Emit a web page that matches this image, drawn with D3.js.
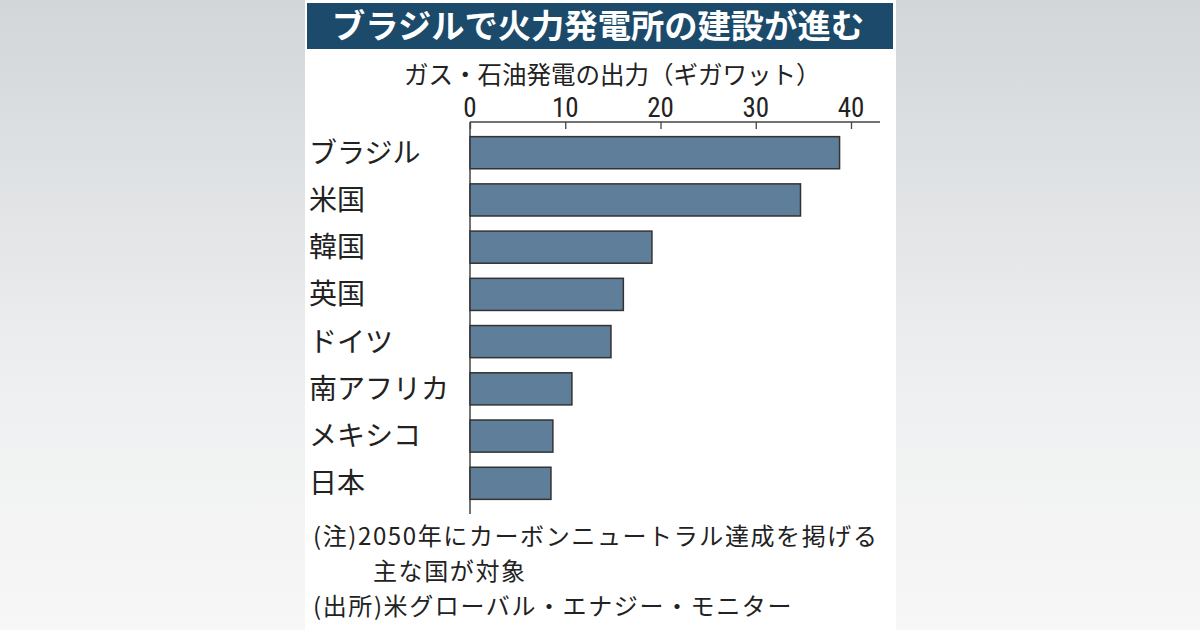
<!DOCTYPE html>
<html>
<head>
<meta charset="utf-8">
<script src="https://cdn.jsdelivr.net/npm/d3@7"></script>
<style>
  body { margin: 0; }
  svg { display: block; }
  text { font-family: "Noto Sans CJK JP", "Noto Sans", sans-serif; fill: #222; }
  .tick-label { font-family: "Liberation Sans Narrow", "Roboto Condensed", sans-serif; }
</style>
</head>
<body>
<div id="chart"></div>
<script>
const categories = ["ブラジル", "米国", "韓国", "英国", "ドイツ", "南アフリカ", "メキシコ", "日本"];
const values = [38.8, 34.7, 19.1, 16.1, 14.8, 10.7, 8.7, 8.5];
const ticks = [0, 10, 20, 30, 40];
const title = "ブラジルで火力発電所の建設が進む";
const axisTitle = "ガス・石油発電の出力（ギガワット）";
const notes = [
  "(注)2050年にカーボンニュートラル達成を掲げる",
  "主な国が対象",
  "(出所)米グローバル・エナジー・モニター"
];

const W = 1200, H = 630,
  panel = { x: 305, w: 591 },
  plot = { left: 470, right: 880, top: 122, bottom: 514 },
  barColor = "#5f7e9a";

const svg = d3.select("#chart").append("svg")
  .attr("width", W).attr("height", H);

const defs = svg.append("defs");
const bg = defs.append("linearGradient").attr("id", "bg")
  .attr("x1", 0).attr("y1", 0).attr("x2", 0).attr("y2", 1);
bg.append("stop").attr("offset", "0").attr("stop-color", "#d2d6d9");
bg.append("stop").attr("offset", "0.6").attr("stop-color", "#eeeff0");
bg.append("stop").attr("offset", "1").attr("stop-color", "#f7f7f7");

svg.append("rect").attr("width", W).attr("height", H).attr("fill", "url(#bg)");
svg.append("rect").attr("x", panel.x).attr("y", 0)
  .attr("width", panel.w).attr("height", H).attr("fill", "#fff");

// title bar
svg.append("rect").attr("x", 307).attr("y", 3)
  .attr("width", 586).attr("height", 46).attr("fill", "#1b4a6b");
svg.append("text").attr("x", 598).attr("y", 38)
  .attr("text-anchor", "middle")
  .style("font-size", "33.3px").style("font-weight", "bold").style("fill", "#fff")
  .text(title);

svg.append("text").attr("x", 404).attr("y", 84)
  .style("font-size", "24.5px")
  .text(axisTitle);

const x = d3.scaleLinear().domain([0, 40]).range([plot.left, 851]);
const y = d3.scaleBand().domain(categories)
  .range([plot.top, plot.bottom])
  .paddingInner(0.32).paddingOuter(0.31);

// top axis
const xAxis = svg.append("g")
  .attr("transform", `translate(0,${plot.top})`)
  .call(d3.axisBottom(x).tickValues(ticks).tickSize(7).tickFormat(""));
xAxis.select(".domain").remove();
xAxis.selectAll("line").attr("stroke", "#444").attr("stroke-width", 1.3);
svg.append("line")
  .attr("x1", plot.left).attr("x2", plot.right)
  .attr("y1", plot.top).attr("y2", plot.top)
  .attr("stroke", "#444").attr("stroke-width", 1.5);
svg.append("line")
  .attr("x1", plot.left).attr("x2", plot.left)
  .attr("y1", plot.top).attr("y2", plot.bottom)
  .attr("stroke", "#444").attr("stroke-width", 1.5);

svg.selectAll(".tick-label").data(ticks).enter()
  .append("text")
  .attr("class", "tick-label")
  .attr("x", d => x(d))
  .attr("y", 117)
  .attr("text-anchor", "middle")
  .style("font-size", "27px")
  .text(d => d);

svg.selectAll(".bar").data(values).enter()
  .append("rect")
  .attr("class", "bar")
  .attr("x", x(0))
  .attr("y", (d, i) => y(categories[i]))
  .attr("width", d => x(d) - x(0))
  .attr("height", y.bandwidth())
  .attr("fill", barColor)
  .attr("stroke", "#333")
  .attr("stroke-width", 1.5);

svg.selectAll(".cat").data(categories).enter()
  .append("text")
  .attr("class", "cat")
  .attr("x", 309)
  .attr("y", d => y(d) + y.bandwidth() / 2)
  .attr("dy", "0.36em")
  .style("font-size", "28px")
  .text(d => d);

// notes
const noteX = [313, 373, 313];
const noteY = [545, 580, 615];
svg.selectAll(".note").data(notes).enter()
  .append("text")
  .attr("class", "note")
  .attr("x", (d, i) => noteX[i])
  .attr("y", (d, i) => noteY[i])
  .style("font-size", "24px")
  .style("letter-spacing", "1.6px")
  .text(d => d);
</script>
</body>
</html>
